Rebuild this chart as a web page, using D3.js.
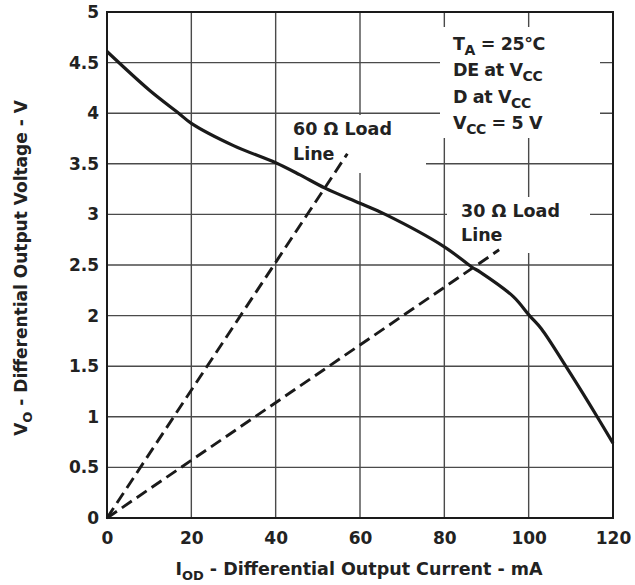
<!DOCTYPE html>
<html><head><meta charset="utf-8">
<script src="https://cdn.jsdelivr.net/npm/d3@7"></script>
<style>
html,body{margin:0;padding:0;background:#fff;}
svg text{font-family:"DejaVu Sans",sans-serif;font-weight:bold;fill:#222;}
</style></head>
<body><div id="chart"></div>
<script>
// ---- data ----
const curveCurrent = [0, 10, 17, 20, 30, 40, 45.8, 51.7, 60, 66, 80, 86.5, 88.5, 96.3, 100.2, 103, 108.8, 114.5, 120];
const curveVoltage = [4.61, 4.23, 4.0, 3.9, 3.68, 3.51, 3.39, 3.26, 3.11, 3.0, 2.68, 2.48, 2.43, 2.19, 2.0, 1.87, 1.5, 1.12, 0.74];
const load60Current = [0, 57];
const load60Voltage = [0, 3.6];
const load30Current = [0, 93];
const load30Voltage = [0, 2.65];
const xTicks = [0, 20, 40, 60, 80, 100, 120];
const yTicks = [0, 0.5, 1, 1.5, 2, 2.5, 3, 3.5, 4, 4.5, 5];
const yTickLabels = ["0", "0.5", "1", "1.5", "2", "2.5", "3", "3.5", "4", "4.5", "5"];

const W = 635, H = 585;
const m = {left: 107, top: 12, right: 22, bottom: 67};
const FONT = "DejaVu Sans, sans-serif";
const svg = d3.select("#chart").append("svg").attr("width", W).attr("height", H);
const x = d3.scaleLinear().domain([0, 120]).range([m.left, W - m.right]);
const y = d3.scaleLinear().domain([0, 5]).range([H - m.bottom, m.top]);

// grid
const grid = svg.append("g");
grid.selectAll(".gx").data(xTicks).enter().append("line")
  .attr("x1", d => x(d)).attr("x2", d => x(d)).attr("y1", y(0)).attr("y2", y(5))
  .attr("stroke", "#4a4a4a").attr("stroke-width", 1.4);
grid.selectAll(".gy").data(yTicks).enter().append("line")
  .attr("y1", d => y(d)).attr("y2", d => y(d)).attr("x1", x(0)).attr("x2", x(120))
  .attr("stroke", "#4a4a4a").attr("stroke-width", 1.4);

// white backgrounds behind labels
svg.append("rect").attr("x", 440).attr("y", 27).attr("width", 160).attr("height", 111).attr("fill", "#fff");
svg.append("rect").attr("x", 278).attr("y", 115).attr("width", 148).attr("height", 58).attr("fill", "#fff");
svg.append("rect").attr("x", 447).attr("y", 197).attr("width", 143).attr("height", 56).attr("fill", "#fff");

// load lines
const line = d3.line().x(d => x(d[0])).y(d => y(d[1]));
svg.append("path").datum(d3.zip(load60Current, load60Voltage)).attr("d", line)
  .attr("fill", "none").attr("stroke", "#1a1a1a").attr("stroke-width", 2.9).attr("stroke-dasharray", "12,6");
svg.append("path").datum(d3.zip(load30Current, load30Voltage)).attr("d", line)
  .attr("fill", "none").attr("stroke", "#1a1a1a").attr("stroke-width", 2.9).attr("stroke-dasharray", "12,6");

// main curve
const cl = d3.line().x(d => x(d[0])).y(d => y(d[1])).curve(d3.curveCatmullRom.alpha(0.5));
svg.append("path").datum(d3.zip(curveCurrent, curveVoltage)).attr("d", cl)
  .attr("fill", "none").attr("stroke", "#1a1a1a").attr("stroke-width", 3.2);

// frame
svg.append("rect").attr("x", x(0)).attr("y", y(5)).attr("width", x(120) - x(0)).attr("height", y(0) - y(5))
  .attr("fill", "none").attr("stroke", "#1a1a1a").attr("stroke-width", 2);

// axes labels
const xAxis = d3.axisBottom(x).tickValues(xTicks).tickSize(0).tickPadding(14).tickFormat(d3.format("d"));
const gx = svg.append("g").attr("transform", `translate(0,${y(0)})`).call(xAxis);
gx.select(".domain").remove();
gx.selectAll("text").style("font-size", "17px").style("font-family", FONT).style("font-weight", "bold").attr("fill", "#222");

const yAxis = d3.axisLeft(y).tickValues(yTicks).tickSize(0).tickPadding(8).tickFormat((d, i) => yTickLabels[i]);
const gy = svg.append("g").attr("transform", `translate(${x(0)},0)`).call(yAxis);
gy.select(".domain").remove();
gy.selectAll("text").style("font-size", "17px").style("font-family", FONT).style("font-weight", "bold").attr("fill", "#222");

// titles
const xt = svg.append("text").attr("x", 359).attr("y", 575).attr("text-anchor", "middle").style("font-size", "17.5px");
xt.append("tspan").text("I");
xt.append("tspan").text("OD").style("font-size", "13px").attr("dy", 5);
xt.append("tspan").text(" - Differential Output Current - mA").attr("dy", -5);

const yt = svg.append("text").attr("transform", "translate(27,268) rotate(-90)").attr("text-anchor", "middle").style("font-size", "17px");
yt.append("tspan").text("V");
yt.append("tspan").text("O").style("font-size", "13px").attr("dy", 5);
yt.append("tspan").text(" - Differential Output Voltage - V").attr("dy", -5);

// condition annotation
function subLine(parent, xx, yy, parts) {
  const t = parent.append("text").attr("x", xx).attr("y", yy).style("font-size", "17.5px").style("letter-spacing", "-0.4px");
  let shifted = false;
  parts.forEach(p => {
    const ts = t.append("tspan").text(p[0]);
    if (p[1] && !shifted) { ts.attr("dy", 5).style("font-size", "14px"); shifted = true; }
    else if (!p[1] && shifted) { ts.attr("dy", -5); shifted = false; }
  });
  return t;
}
subLine(svg, 453, 50, [["T"], ["A", true], [" = 25°C"]]);
subLine(svg, 453, 76, [["DE at V"], ["CC", true]]);
subLine(svg, 453, 103, [["D at V"], ["CC", true]]);
subLine(svg, 453, 129, [["V"], ["CC", true], [" = 5 V"]]);

// load line labels
svg.append("text").attr("x", 293).attr("y", 135).style("font-size", "17.5px").text("60 Ω Load");
svg.append("text").attr("x", 293).attr("y", 160).style("font-size", "17.5px").text("Line");
svg.append("text").attr("x", 461).attr("y", 217).style("font-size", "17.5px").text("30 Ω Load");
svg.append("text").attr("x", 461).attr("y", 241).style("font-size", "17.5px").text("Line");
</script></body></html>
